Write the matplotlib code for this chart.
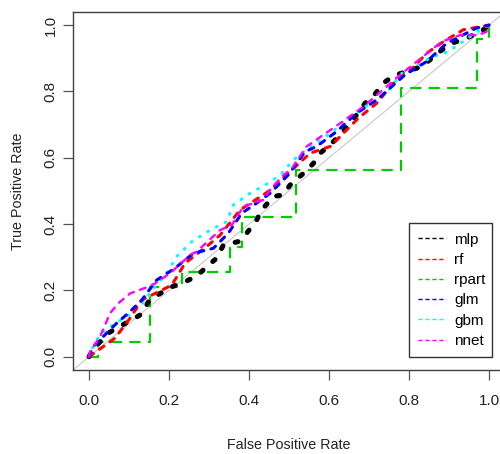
import matplotlib
matplotlib.use("Agg")
import matplotlib.pyplot as plt
from matplotlib.lines import Line2D

plt.rcParams.update({
    "font.family": ["Liberation Sans", "DejaVu Sans"],
    "font.size": 11,
})

# ROC points (FPR, TPR)
mlp_fpr = [0.0, 0.015, 0.032, 0.048, 0.073, 0.107, 0.132, 0.151, 0.178, 0.207, 0.24, 0.269, 0.294,
           0.319, 0.336, 0.373, 0.394, 0.419, 0.432, 0.461, 0.485, 0.503, 0.536, 0.561, 0.578, 0.603,
           0.628, 0.648, 0.669, 0.69, 0.715, 0.736, 0.761, 0.832, 0.882, 0.911, 0.944, 0.986, 1.0]
mlp_tpr = [0.0, 0.03, 0.05, 0.071, 0.089, 0.111, 0.129, 0.171, 0.191, 0.211, 0.226, 0.243, 0.271,
           0.297, 0.337, 0.347, 0.372, 0.412, 0.443, 0.483, 0.488, 0.518, 0.553, 0.583, 0.614, 0.639,
           0.669, 0.699, 0.729, 0.764, 0.792, 0.825, 0.847, 0.875, 0.925, 0.947, 0.96, 0.986, 1.0]

rf_fpr = [0.0, 0.065, 0.103, 0.132, 0.207, 0.24, 0.294, 0.328, 0.378, 0.448, 0.553, 0.603, 0.632,
          0.673, 0.719, 0.761, 0.801, 0.844, 0.886, 0.936, 1.0]
rf_tpr = [0.0, 0.056, 0.117, 0.171, 0.216, 0.282, 0.332, 0.367, 0.443, 0.498, 0.614, 0.634, 0.669,
          0.719, 0.764, 0.825, 0.86, 0.915, 0.95, 0.986, 1.0]

rpart_fpr = [0.0, 0.0225, 0.1525, 0.232, 0.3525, 0.382, 0.5175, 0.779, 0.971, 1.0]
rpart_tpr = [0.0, 0.043, 0.211, 0.256, 0.331, 0.422, 0.563, 0.811, 0.957, 1.0]

glm_fpr = [0.0, 0.01, 0.069, 0.098, 0.132, 0.169, 0.215, 0.261, 0.311, 0.348, 0.382, 0.419, 0.453,
           0.498, 0.54, 0.569, 0.619, 0.669, 0.719, 0.79, 0.844, 0.894, 0.969, 1.0]
glm_tpr = [0.0, 0.03, 0.101, 0.131, 0.171, 0.231, 0.267, 0.312, 0.327, 0.372, 0.433, 0.463, 0.493,
           0.548, 0.618, 0.634, 0.679, 0.734, 0.774, 0.85, 0.89, 0.945, 0.991, 1.0]

gbm_fpr = [0.0, 0.015, 0.04, 0.094, 0.128, 0.161, 0.194, 0.219, 0.257, 0.303, 0.344, 0.361, 0.403,
           0.448, 0.478, 0.511, 0.548, 0.603, 0.678, 0.744, 0.786, 0.861, 0.898, 0.978, 1.0]
gbm_tpr = [0.0, 0.045, 0.081, 0.121, 0.151, 0.206, 0.252, 0.302, 0.347, 0.382, 0.407, 0.458, 0.493,
           0.523, 0.548, 0.593, 0.629, 0.674, 0.744, 0.795, 0.86, 0.905, 0.92, 0.986, 1.0]

nnet_fpr = [0.0, 0.0025, 0.0275, 0.0525, 0.073, 0.103, 0.148, 0.165, 0.203, 0.253, 0.269, 0.328,
            0.357, 0.386, 0.436, 0.453, 0.482, 0.507, 0.544, 0.628, 0.686, 0.778, 0.882, 0.928,
            0.973, 0.994, 1.0]
nnet_tpr = [0.0, 0.015, 0.06, 0.131, 0.161, 0.191, 0.211, 0.221, 0.252, 0.307, 0.317, 0.382,
            0.397, 0.453, 0.473, 0.503, 0.543, 0.568, 0.634, 0.704, 0.754, 0.85, 0.95, 0.97,
            0.97, 0.98, 1.0]

model_names = ["mlp", "rf", "rpart", "glm", "gbm", "nnet"]
model_colors = ["black", "#FF0000", "#00CD00", "#0000FF", "#00FFFF", "#FF00FF"]

tick_vals = [0.0, 0.2, 0.4, 0.6, 0.8, 1.0]
tick_labels = ["0.0", "0.2", "0.4", "0.6", "0.8", "1.0"]

fig = plt.figure(figsize=(5.0, 4.54), dpi=100)
ax = fig.add_axes([0.146, 0.185, 0.864, 0.789])

ax.axline((0, 0), slope=1, color="#c8c8c8", lw=0.8, zorder=1)

# rpart is a step curve
ax.plot(rpart_fpr, rpart_tpr, drawstyle="steps-post", color=model_colors[2], lw=1.6,
        dashes=(5, 3.3), zorder=2)
ax.plot(mlp_fpr, mlp_tpr, color=model_colors[0], lw=3.6, dashes=(0.6, 2.6),
        dash_capstyle="round", zorder=3)
ax.plot(gbm_fpr, gbm_tpr, color=model_colors[4], lw=2.2, dashes=(0.3, 2.9),
        dash_capstyle="round", zorder=4)
ax.plot(rf_fpr, rf_tpr, color=model_colors[1], lw=2.2, dashes=(1.8, 2.4),
        dash_capstyle="round", zorder=5)
ax.plot(glm_fpr, glm_tpr, color=model_colors[3], lw=2.2, dashes=(1.8, 2.4),
        dash_capstyle="round", zorder=6)
ax.plot(nnet_fpr, nnet_tpr, color=model_colors[5], lw=1.7, dashes=(2.5, 2.8),
        dash_capstyle="round", zorder=7)

ax.set_xlim(-0.04, 1.04)
ax.set_ylim(-0.04, 1.04)
ax.set_xticks(tick_vals)
ax.set_xticklabels(tick_labels)
ax.set_yticks(tick_vals)
ax.set_yticklabels(tick_labels, rotation=90, va="center")
ax.tick_params(axis="x", length=7.2, width=0.9, color="#555555", pad=10, labelcolor="#222222",
               labelsize=11)
ax.tick_params(axis="y", length=7.2, width=0.9, color="#555555", pad=4, labelcolor="#222222",
               labelsize=11)
for sp in ax.spines.values():
    sp.set_color("#404040")
    sp.set_linewidth(1.0)

ax.set_xlabel("False Positive Rate", color="#222222", va="center", fontsize=10.3)
ax.xaxis.set_label_coords(0.5, -0.209)
ax.set_ylabel("True Positive Rate", color="#222222", va="center", fontsize=10.3)
ax.yaxis.set_label_coords(-0.127, 0.5)

handles = [Line2D([], [], color=c, lw=1.0, dashes=(3, 2)) for c in model_colors]
leg = ax.legend(handles, model_names, loc="lower left",
                bbox_to_anchor=(0.778, 0.036, 0.192, 0.371), mode="expand",
                borderaxespad=0, fancybox=False, framealpha=1, edgecolor="#333333",
                prop={"size": 11},
                borderpad=0.6, labelspacing=0.41, handlelength=1.8, handletextpad=0.55)
leg.get_frame().set_linewidth(1.0)

fig.savefig("out.png", dpi=100)
